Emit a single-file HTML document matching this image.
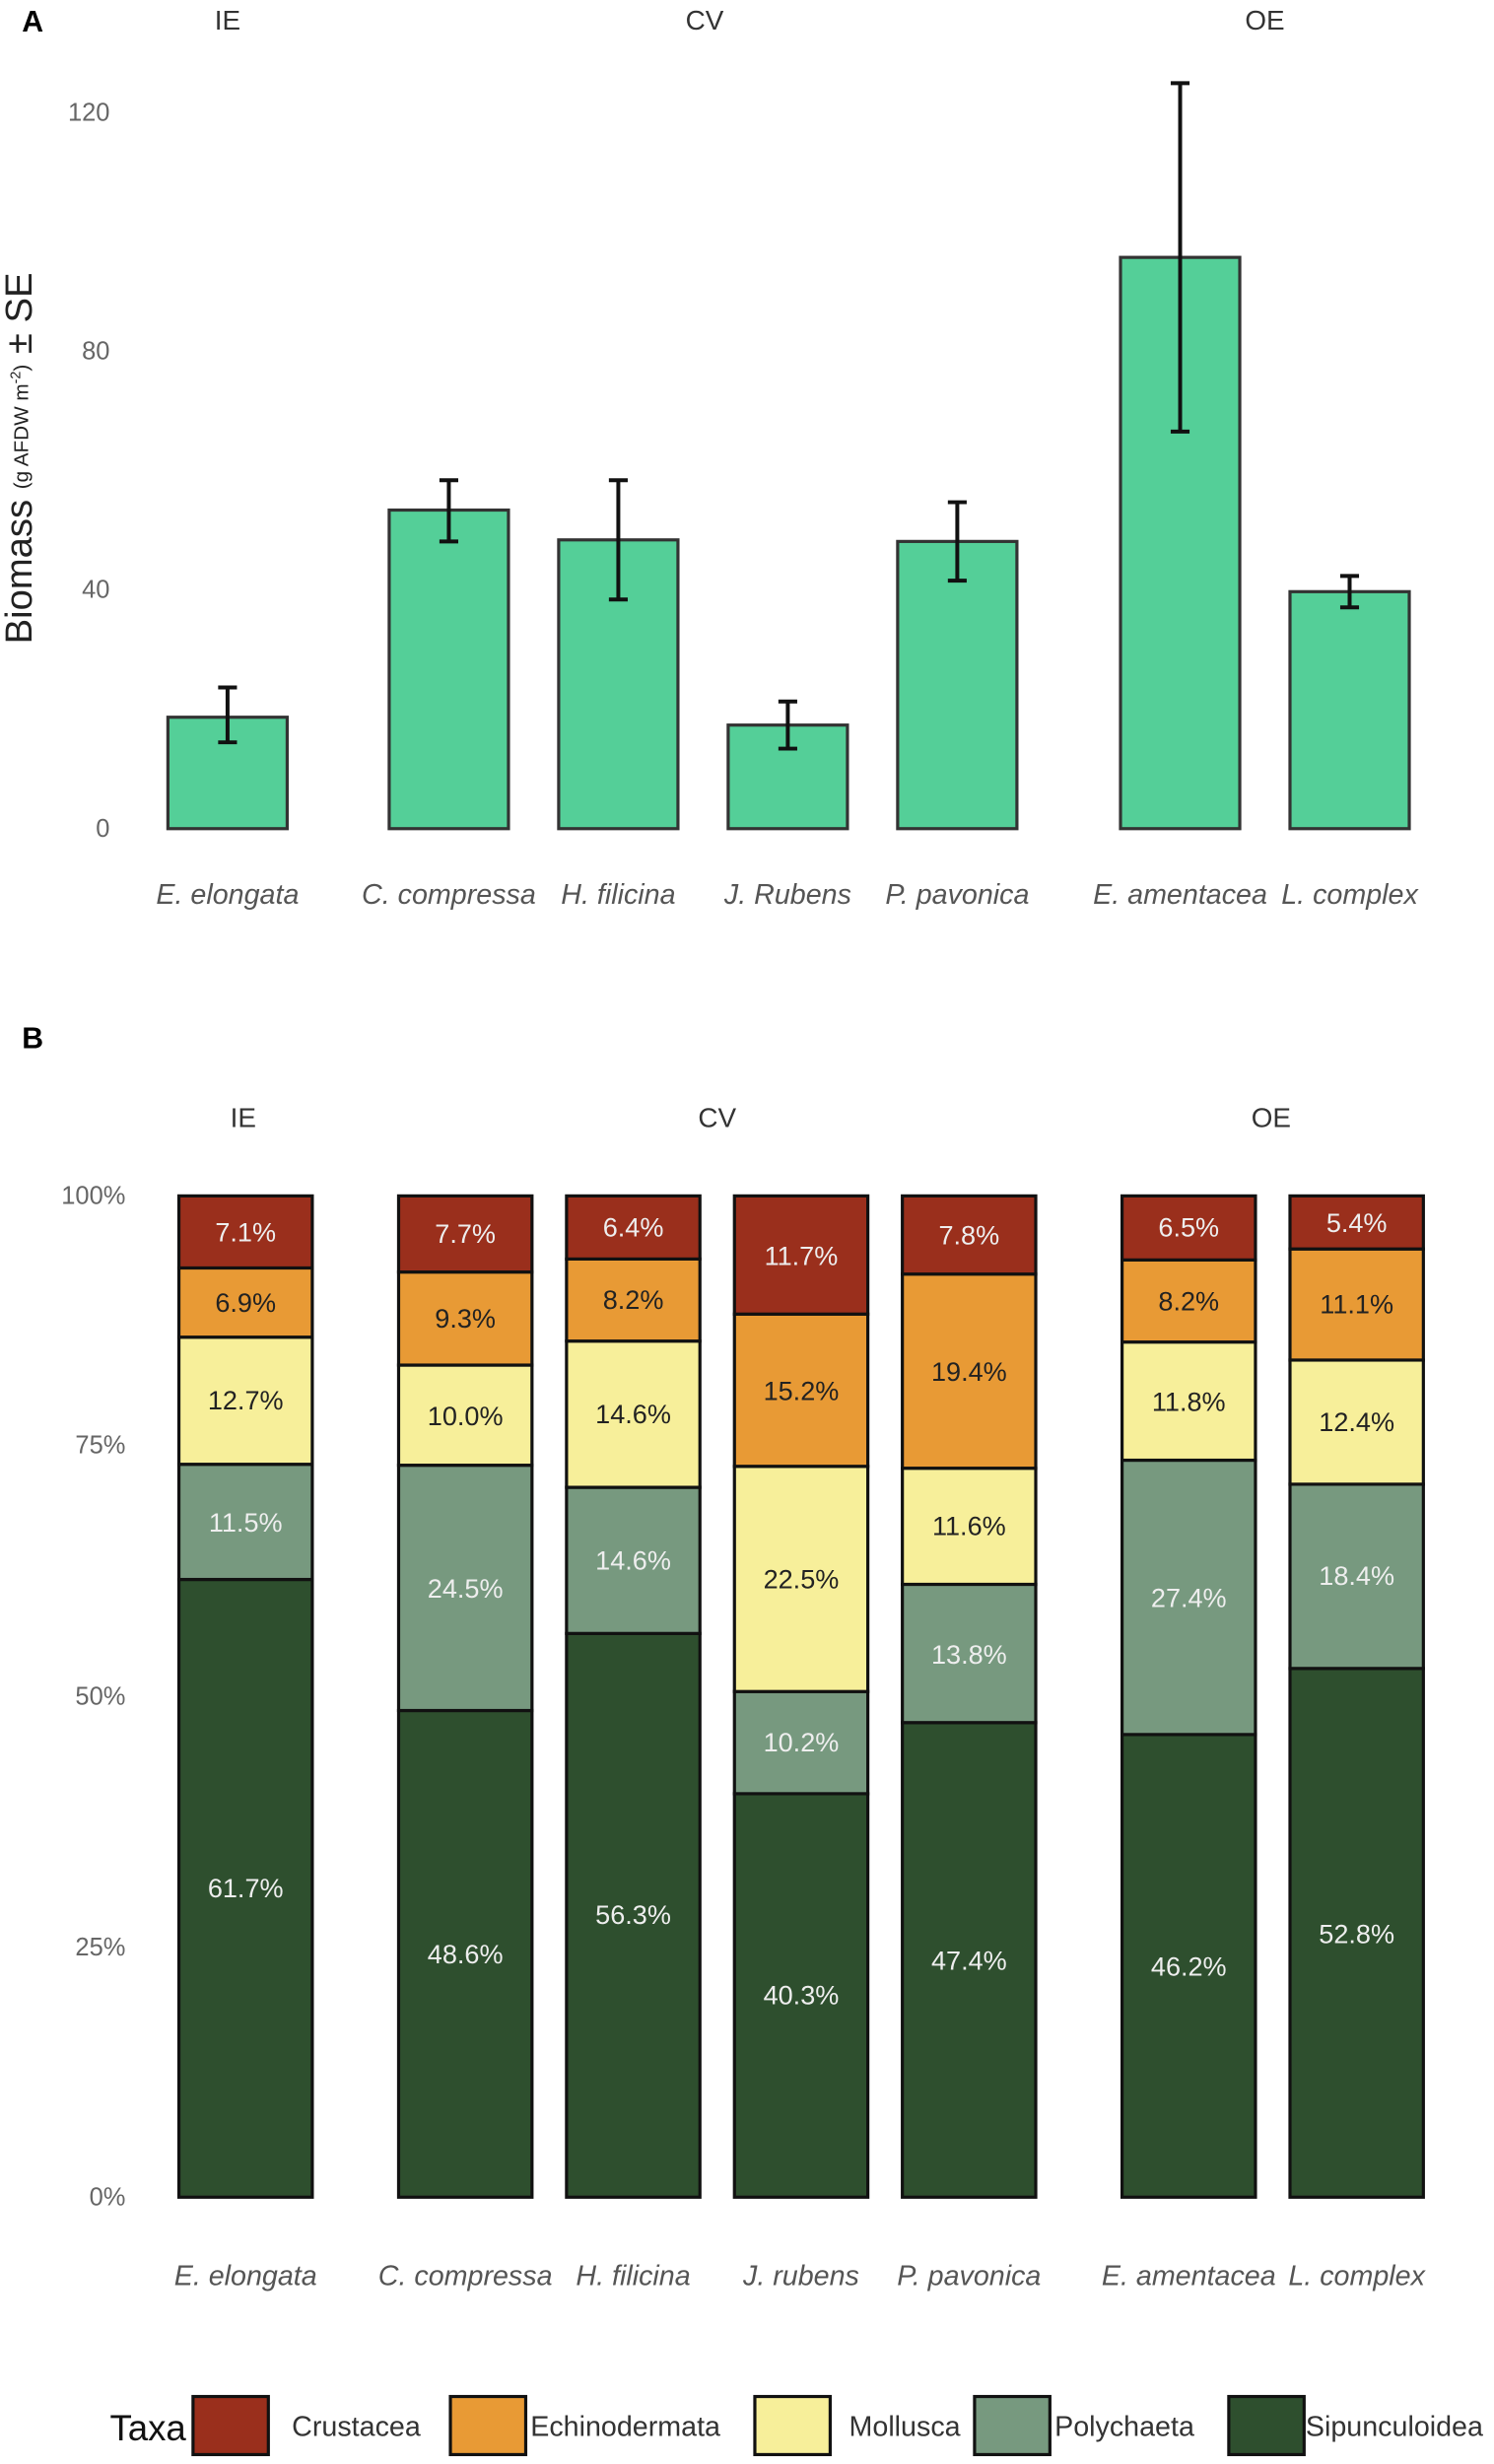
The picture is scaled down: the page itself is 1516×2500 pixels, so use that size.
<!DOCTYPE html>
<html><head><meta charset="utf-8"><style>html,body{margin:0;padding:0;background:#fff}svg{display:block}</style></head>
<body>
<svg xmlns="http://www.w3.org/2000/svg" width="1516" height="2500" viewBox="0 0 952 1570" preserveAspectRatio="none" font-family="Liberation Sans, sans-serif">
<rect width="952" height="1570" fill="#fff"/>
<!-- Panel A -->
<text x="14" y="20" font-size="19" font-weight="bold">A</text>
<g font-size="17.5" fill="#333" text-anchor="middle">
<text x="145" y="19">IE</text><text x="449" y="19">CV</text><text x="806" y="19">OE</text>
</g>
<g font-size="16" fill="#666" text-anchor="end" dominant-baseline="central">
<text x="70" y="72">120</text><text x="70" y="224">80</text><text x="70" y="376">40</text><text x="70" y="528">0</text>
</g>
<text transform="translate(20,292) rotate(-90)" text-anchor="middle" font-size="24" fill="#222">Biomass <tspan font-size="13" dy="-2">(g AFDW  m</tspan><tspan font-size="9" dy="-5">-2</tspan><tspan font-size="13" dy="5">)</tspan><tspan dy="2"> ± SE</tspan></text>
<g fill="#54CF98" stroke="#333" stroke-width="2">
<rect x="107" y="457" width="76" height="71"/>
<rect x="248" y="325" width="76" height="203"/>
<rect x="356" y="344" width="76" height="184"/>
<rect x="464" y="462" width="76" height="66"/>
<rect x="572" y="345" width="76" height="183"/>
<rect x="714" y="164" width="76" height="364"/>
<rect x="822" y="377" width="76" height="151"/>
</g>
<g stroke="#111" stroke-width="2.5" fill="none">
<path d="M145 438V473M139 438H151M139 473H151"/>
<path d="M286 306V345M280 306H292M280 345H292"/>
<path d="M394 306V382M388 306H400M388 382H400"/>
<path d="M502 447V477M496 447H508M496 477H508"/>
<path d="M610 320V370M604 320H616M604 370H616"/>
<path d="M752 53V275M746 53H758M746 275H758"/>
<path d="M860 367V387M854 367H866M854 387H866"/>
</g>
<g font-size="18" fill="#555" font-style="italic" text-anchor="middle">
<text x="145" y="576">E. elongata</text><text x="286" y="576">C. compressa</text><text x="394" y="576">H. filicina</text><text x="502" y="576">J. Rubens</text><text x="610" y="576">P. pavonica</text><text x="752" y="576">E. amentacea</text><text x="860" y="576">L. complex</text>
</g>
<!-- Panel B -->
<text x="14" y="668" font-size="19" font-weight="bold">B</text>
<g font-size="17.5" fill="#333" text-anchor="middle">
<text x="155" y="718">IE</text><text x="457" y="718">CV</text><text x="810" y="718">OE</text>
</g>
<g font-size="16" fill="#666" text-anchor="end" dominant-baseline="central">
<text x="80" y="762">100%</text><text x="80" y="921">75%</text><text x="80" y="1081">50%</text><text x="80" y="1241">25%</text><text x="80" y="1400">0%</text>
</g>
<g stroke="#111" stroke-width="2">
<rect x="114" y="1006.4" width="85" height="393.6" fill="#2E4F2E"/><rect x="114" y="933" width="85" height="73.4" fill="#77997F"/><rect x="114" y="852" width="85" height="81" fill="#F7EF9A"/><rect x="114" y="807.9" width="85" height="44.1" fill="#E89A35"/><rect x="114" y="762" width="85" height="45.9" fill="#9A2F1C"/>
<rect x="254" y="1089.9" width="85" height="310.1" fill="#2E4F2E"/><rect x="254" y="933.6" width="85" height="156.3" fill="#77997F"/><rect x="254" y="869.8" width="85" height="63.8" fill="#F7EF9A"/><rect x="254" y="810.5" width="85" height="59.3" fill="#E89A35"/><rect x="254" y="762" width="85" height="48.5" fill="#9A2F1C"/>
<rect x="361" y="1040.8" width="85" height="359.2" fill="#2E4F2E"/><rect x="361" y="947.7" width="85" height="93.1" fill="#77997F"/><rect x="361" y="854.5" width="85" height="93.2" fill="#F7EF9A"/><rect x="361" y="802.2" width="85" height="52.3" fill="#E89A35"/><rect x="361" y="762" width="85" height="40.2" fill="#9A2F1C"/>
<rect x="468" y="1142.9" width="85" height="257.1" fill="#2E4F2E"/><rect x="468" y="1077.8" width="85" height="65.1" fill="#77997F"/><rect x="468" y="934.3" width="85" height="143.5" fill="#F7EF9A"/><rect x="468" y="837.3" width="85" height="97" fill="#E89A35"/><rect x="468" y="762" width="85" height="75.3" fill="#9A2F1C"/>
<rect x="575" y="1097.6" width="85" height="302.4" fill="#2E4F2E"/><rect x="575" y="1009.5" width="85" height="88.1" fill="#77997F"/><rect x="575" y="935.5" width="85" height="74" fill="#F7EF9A"/><rect x="575" y="811.8" width="85" height="123.7" fill="#E89A35"/><rect x="575" y="762" width="85" height="49.8" fill="#9A2F1C"/>
<rect x="715" y="1105.2" width="85" height="294.8" fill="#2E4F2E"/><rect x="715" y="930.4" width="85" height="174.8" fill="#77997F"/><rect x="715" y="855.1" width="85" height="75.3" fill="#F7EF9A"/><rect x="715" y="802.8" width="85" height="52.3" fill="#E89A35"/><rect x="715" y="762" width="85" height="40.8" fill="#9A2F1C"/>
<rect x="822" y="1063.1" width="85" height="336.9" fill="#2E4F2E"/><rect x="822" y="945.7" width="85" height="117.4" fill="#77997F"/><rect x="822" y="866.6" width="85" height="79.1" fill="#F7EF9A"/><rect x="822" y="795.8" width="85" height="70.8" fill="#E89A35"/><rect x="822" y="762" width="85" height="33.8" fill="#9A2F1C"/>
</g>
<g font-size="17" text-anchor="middle" dominant-baseline="central">
<g fill="#eee">
<text x="156.5" y="1203">61.7%</text><text x="156.5" y="970">11.5%</text><text x="156.5" y="785">7.1%</text>
<text x="296.5" y="1245">48.6%</text><text x="296.5" y="1012">24.5%</text><text x="296.5" y="786">7.7%</text>
<text x="403.5" y="1220">56.3%</text><text x="403.5" y="994">14.6%</text><text x="403.5" y="782">6.4%</text>
<text x="510.5" y="1271">40.3%</text><text x="510.5" y="1110">10.2%</text><text x="510.5" y="800">11.7%</text>
<text x="617.5" y="1249">47.4%</text><text x="617.5" y="1054">13.8%</text><text x="617.5" y="787">7.8%</text>
<text x="757.5" y="1253">46.2%</text><text x="757.5" y="1018">27.4%</text><text x="757.5" y="782">6.5%</text>
<text x="864.5" y="1232">52.8%</text><text x="864.5" y="1004">18.4%</text><text x="864.5" y="779">5.4%</text>
</g>
<g fill="#222">
<text x="156.5" y="892">12.7%</text><text x="156.5" y="830">6.9%</text>
<text x="296.5" y="902">10.0%</text><text x="296.5" y="840">9.3%</text>
<text x="403.5" y="901">14.6%</text><text x="403.5" y="828">8.2%</text>
<text x="510.5" y="1006">22.5%</text><text x="510.5" y="886">15.2%</text>
<text x="617.5" y="972">11.6%</text><text x="617.5" y="874">19.4%</text>
<text x="757.5" y="893">11.8%</text><text x="757.5" y="829">8.2%</text>
<text x="864.5" y="906">12.4%</text><text x="864.5" y="831">11.1%</text>
</g>
</g>
<g font-size="18" fill="#555" font-style="italic" text-anchor="middle">
<text x="156.5" y="1456">E. elongata</text><text x="296.5" y="1456">C. compressa</text><text x="403.5" y="1456">H. filicina</text><text x="510.5" y="1456">J. rubens</text><text x="617.5" y="1456">P. pavonica</text><text x="757.5" y="1456">E. amentacea</text><text x="864.5" y="1456">L. complex</text>
</g>
<text x="70" y="1555" font-size="23" fill="#111">Taxa</text>
<g stroke="#111" stroke-width="2">
<rect x="123" y="1527" width="48" height="37" fill="#9A2F1C"/>
<rect x="287" y="1527" width="48" height="37" fill="#E89A35"/>
<rect x="481" y="1527" width="48" height="37" fill="#F7EF9A"/>
<rect x="621" y="1527" width="48" height="37" fill="#77997F"/>
<rect x="783" y="1527" width="48" height="37" fill="#2E4F2E"/>
</g>
<g font-size="18" fill="#333">
<text x="186" y="1552">Crustacea</text><text x="338" y="1552">Echinodermata</text><text x="541" y="1552">Mollusca</text><text x="672" y="1552">Polychaeta</text><text x="832" y="1552">Sipunculoidea</text>
</g>
</svg>
</body></html>
